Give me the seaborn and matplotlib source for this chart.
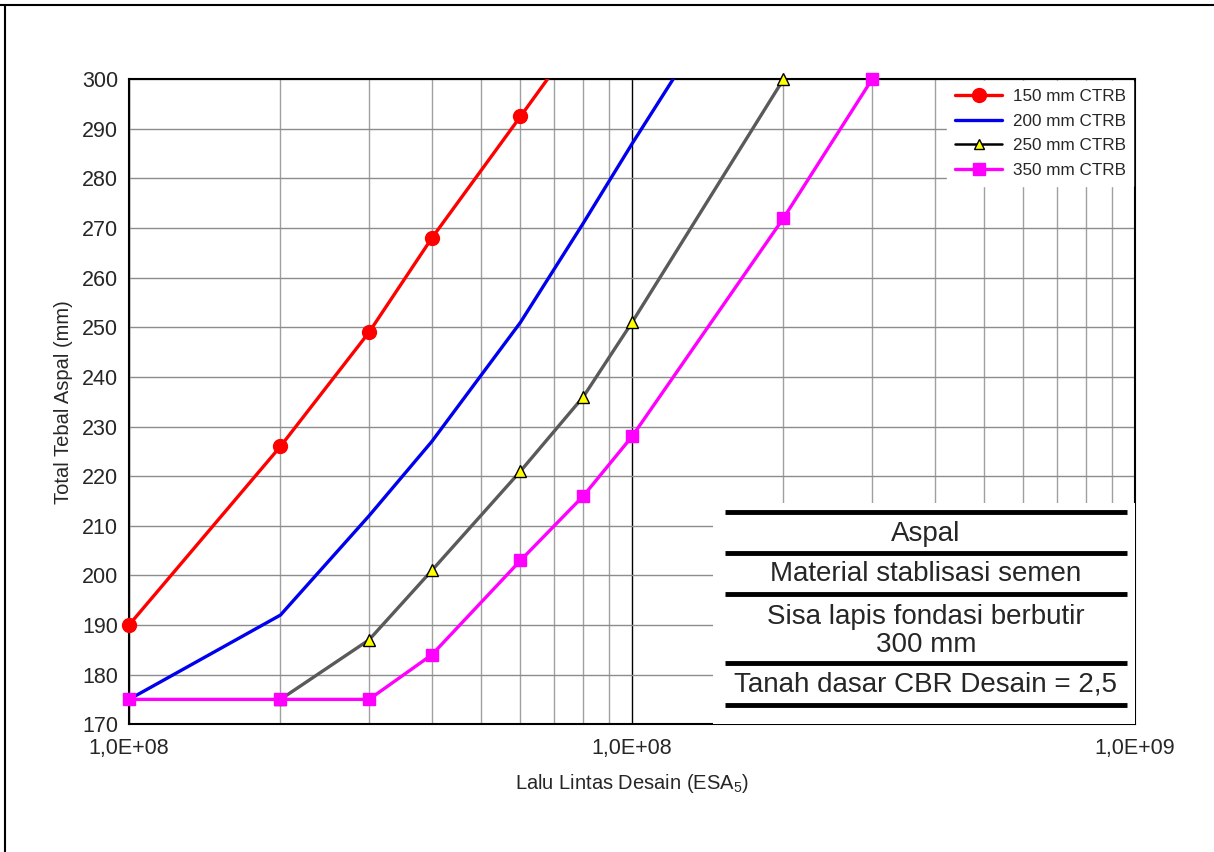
import numpy as np
import pandas as pd
import matplotlib.pyplot as plt
import seaborn as sns
from matplotlib.lines import Line2D
from matplotlib.patches import Rectangle
from matplotlib.ticker import LogLocator, FixedLocator, FixedFormatter

# data (x = ESA, y = total asphalt thickness in mm)
esa_150 = [1e7, 2e7, 3e7, 4e7, 6e7, 8e7]
mm_150 = [190, 226, 249, 268, 292.5, 310]
esa_200 = [1e7, 2e7, 3e7, 4e7, 6e7, 8e7, 1e8, 2e8]
mm_200 = [175, 192, 212, 227, 251, 271, 287, 335]
esa_250 = [2e7, 3e7, 4e7, 6e7, 8e7, 1e8, 2e8]
mm_250 = [175, 187, 201, 221, 236, 251, 300]
esa_350 = [1e7, 2e7, 3e7, 4e7, 6e7, 8e7, 1e8, 2e8, 3e8]
mm_350 = [175, 175, 175, 184, 203, 216, 228, 272, 300]

series_names = ['150 mm CTRB', '200 mm CTRB', '250 mm CTRB', '350 mm CTRB']
xtick_vals = [1e7, 1e8, 1e9]
xtick_labels = ['1,0E+08', '1,0E+08', '1,0E+09']
table_rows = ['Aspal', 'Material stablisasi semen',
              'Sisa lapis fondasi berbutir\n300 mm', 'Tanah dasar CBR Desain = 2,5']

sns.set_style('white')
plt.rcParams['font.family'] = ['Liberation Sans', 'DejaVu Sans']
plt.rcParams['mathtext.fontset'] = 'custom'
plt.rcParams['mathtext.rm'] = 'Liberation Sans'

fig = plt.figure(figsize=(12.14, 8.52), dpi=100)
ax = fig.add_axes([0.1063, 0.150, 0.8287, 0.757])

styles = [
    dict(x=esa_150, y=mm_150, color='#ff0000', line='#ff0000', marker='o', ms=10, mec='#ff0000', lw=2.4),
    dict(x=esa_200, y=mm_200, color='#0000ee', line='#0000ee', marker=None, ms=0, mec='none', lw=2.4),
    dict(x=esa_250, y=mm_250, color='#ffff00', line='#5a5a5a', marker='^', ms=8.5, mec='black', lw=2.4),
    dict(x=esa_350, y=mm_350, color='#ff00ff', line='#ff00ff', marker='s', ms=9, mec='#ff00ff', lw=2.4),
]

for name, s in zip(series_names, styles):
    df = pd.DataFrame({'esa': s['x'], 'mm': s['y']})
    sns.lineplot(data=df, x='esa', y='mm', ax=ax, color=s['line'], lw=s['lw'],
                 sort=False, estimator=None, zorder=3)
    if s['marker'] is not None:
        shown = df[df['mm'] <= 300]
        ax.plot(shown['esa'], shown['mm'], ls='none', marker=s['marker'], ms=s['ms'],
                mfc=s['color'], mec=s['mec'], mew=1, zorder=4, clip_on=False)

ax.set_xscale('log')
ax.set_xlim(1e7, 1e9)
ax.set_ylim(170, 300)
ax.set_yticks(np.arange(170, 301, 10))
ax.xaxis.set_major_locator(FixedLocator(xtick_vals))
ax.xaxis.set_major_formatter(FixedFormatter(xtick_labels))
ax.xaxis.set_minor_locator(LogLocator(base=10, subs=np.arange(2, 10)))
ax.xaxis.set_minor_formatter(FixedFormatter([]))
ax.tick_params(axis='both', which='both', length=0, labelsize=15.5, pad=8)
ax.tick_params(axis='x', pad=10)

ax.grid(True, axis='y', color='#8c8c8c', lw=1)
ax.grid(True, axis='x', which='minor', color='#a0a0a0', lw=1)
ax.grid(True, axis='x', which='major', color='black', lw=1)
ax.set_axisbelow(True)
for sp in ax.spines.values():
    sp.set_color('black')
    sp.set_linewidth(1.5)

ax.set_xlabel(r'Lalu Lintas Desain (ESA$_\mathregular{5}$)', fontsize=14.5, labelpad=9)
ax.set_ylabel('Total Tebal Aspal (mm)', fontsize=14.5, labelpad=6)

# legend
handles = [
    Line2D([], [], color='#ff0000', lw=2.4, marker='o', ms=10, mfc='#ff0000', mec='#ff0000'),
    Line2D([], [], color='#0000ee', lw=2.4),
    Line2D([], [], color='black', lw=1.8, marker='^', ms=7, mfc='#ffff00', mec='black'),
    Line2D([], [], color='#ff00ff', lw=2.4, marker='s', ms=9, mfc='#ff00ff', mec='#ff00ff'),
]
leg = ax.legend(handles, series_names, loc='upper right', fontsize=12.3, frameon=True,
                fancybox=False, framealpha=1, edgecolor='white', borderaxespad=0.1,
                handlelength=2.8, labelspacing=0.58, borderpad=0.45, handletextpad=0.6)
leg.set_zorder(6)

# layer table in the lower right corner
ax.add_patch(Rectangle((0.5805, 0.0), 0.4195, 0.343, transform=ax.transAxes,
                       facecolor='white', edgecolor='none', zorder=5))
for yy in [0.3287, 0.265, 0.2016, 0.0946, 0.0295]:
    ax.plot([0.5925, 0.992], [yy, yy], color='black', lw=3.5, transform=ax.transAxes,
            zorder=6, solid_capstyle='butt')
for txt, yy in zip(table_rows, [0.295, 0.233, 0.145, 0.061]):
    ax.text(0.792, yy, txt, transform=ax.transAxes, ha='center', va='center',
            fontsize=20, zorder=7, linespacing=1.1)

# frame lines of the original page
fig.add_artist(Line2D([0, 1], [1 - 5 / 852, 1 - 5 / 852], color='black', lw=1.5))
fig.add_artist(Line2D([5 / 1214, 5 / 1214], [0, 1 - 5 / 852], color='black', lw=1.5))

fig.savefig('out.png', dpi=100, facecolor='white')
